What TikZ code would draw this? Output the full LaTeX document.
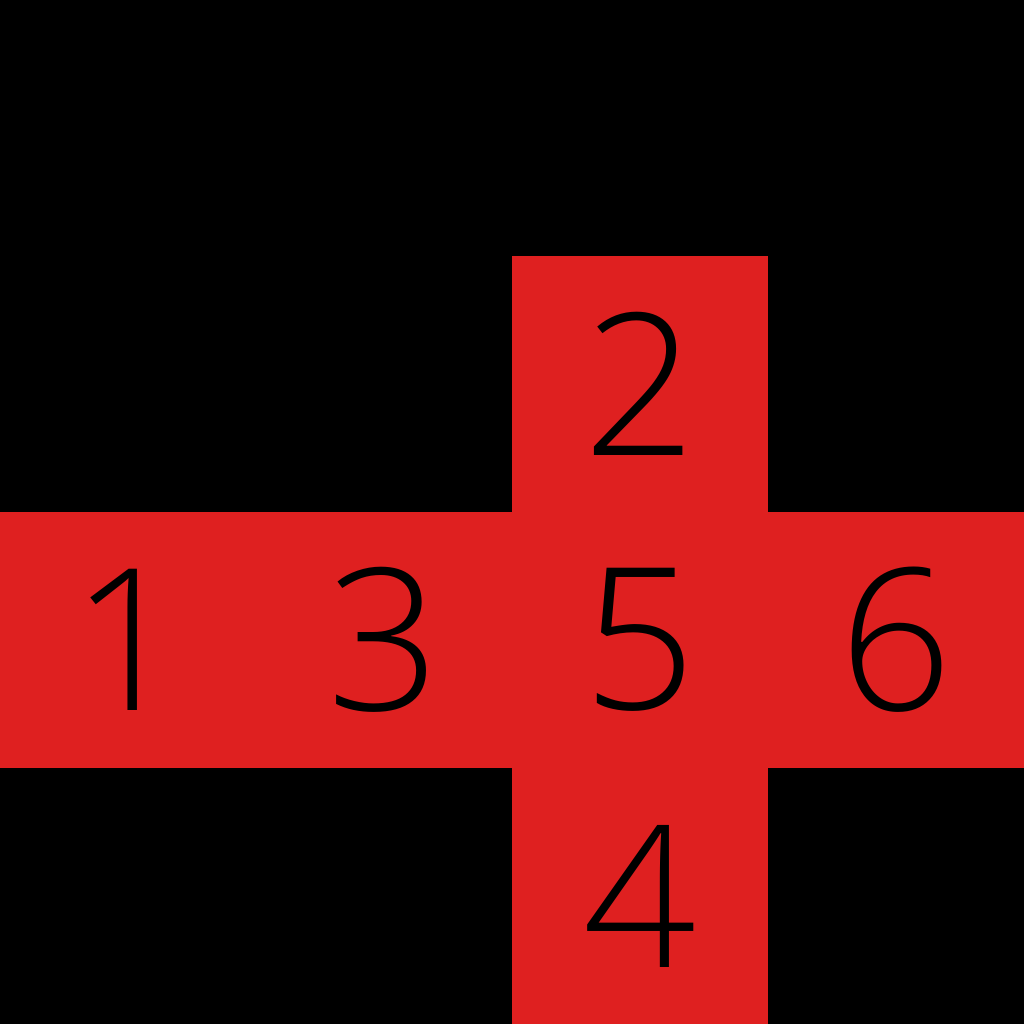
\documentclass[tikz,border=0pt]{standalone}
\usepackage{fontspec}
\setmainfont{Open Sans}
\newfontfamily\facefont{Open Sans Light}
\usepackage{xcolor}
\usepackage{tikz}
\usetikzlibrary{positioning}
\definecolor{netred}{HTML}{DF2020}
\tikzset{
  face/.style={rectangle,fill=netred,draw=none,minimum size=2cm,
    inner sep=0pt,outer sep=0pt,text=black,
    font=\facefont\fontsize{44}{44}\selectfont},
}

\begin{document}
\begin{tikzpicture}[node distance=0mm and 0mm]
  \fill[black] (0,0) rectangle (8,8);
  \useasboundingbox (0,0) rectangle (8,8);
  \node[face] (f1) at (1,3) {1};
  \node[face,right=of f1] (f3) {3};
  \node[face,right=of f3] (f5) {5};
  \node[face,right=of f5] (f6) {6};
  \node[face,above=of f5] (f2) {2};
  \node[face,below=of f5] (f4) {4};
\end{tikzpicture}
\end{document}
